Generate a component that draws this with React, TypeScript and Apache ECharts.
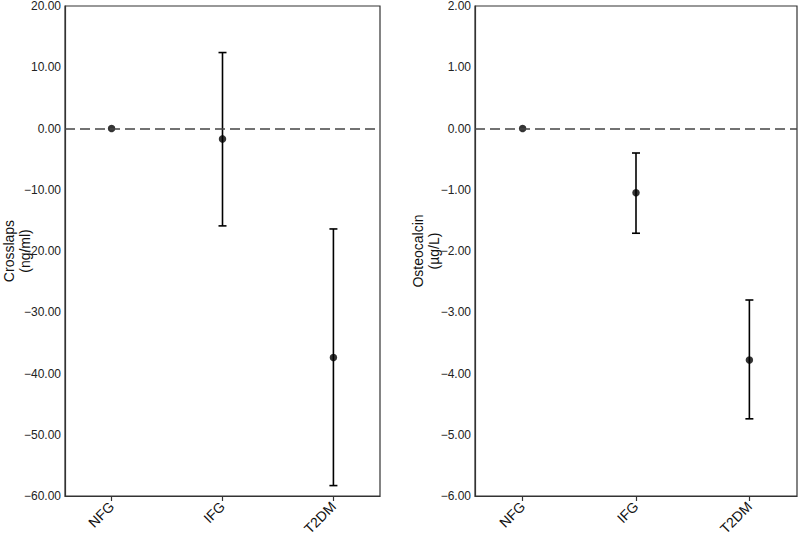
import React, { useEffect, useRef } from "react";
import * as echarts from "echarts";

const categories = ["NFG", "IFG", "T2DM"];
const crossMean = [0, -1.7, -37.4];
const crossLow = [0, -15.9, -58.3];
const crossHigh = [0, 12.4, -16.4];
const oscMean = [0, -1.05, -3.78];
const oscLow = [0, -1.71, -4.74];
const oscHigh = [0, -0.4, -2.8];
const crossTicks = [-60, 20, 10];
const oscTicks = [-6, 2, 1];

const FONT = "'Liberation Sans', Arial, Helvetica, sans-serif";

export default function App() {
  const ref = useRef<HTMLDivElement>(null);
  useEffect(() => {
    if (!ref.current) return;
    const chart = echarts.init(ref.current, null, { renderer: "svg" });

    const xAxisFor = (gridIndex: number) => ({
      type: "value",
      gridIndex,
      min: -0.42,
      max: 2.42,
      splitLine: { show: false },
      axisLine: { show: true, onZero: false, lineStyle: { color: "#333", width: 1.2 } },
      axisTick: { show: true, customValues: [0, 1, 2], length: 5, lineStyle: { color: "#333", width: 1.2 } },
      axisLabel: {
        customValues: [0, 1, 2],
        formatter: (v: number) => categories[Math.round(v)] ?? "",
        rotate: 45,
        margin: 8,
        fontSize: 14,
        color: "#111",
        fontFamily: FONT,
      },
    });

    const yAxisFor = (gridIndex: number, ticks: number[], name: string, gap: number) => ({
      type: "value",
      gridIndex,
      min: ticks[0],
      max: ticks[1],
      interval: ticks[2],
      name,
      nameLocation: "middle",
      nameGap: gap,
      nameMoveOverlap: false,
      nameTextStyle: { fontSize: 14, color: "#111", fontFamily: FONT, lineHeight: 16 },
      splitLine: { show: false },
      axisLine: { show: true, onZero: false, lineStyle: { color: "#333", width: 1.2 } },
      axisTick: { show: false },
      axisLabel: {
        formatter: (v: number) => v.toFixed(2).replace("-", "\u2212"),
        margin: 4,
        fontSize: 12,
        color: "#222",
        fontFamily: FONT,
      },
    });

    const errSeries = (idx: number, low: number[], high: number[]) => ({
      type: "custom",
      xAxisIndex: idx,
      yAxisIndex: idx,
      data: categories.map((_, i) => [i, low[i], high[i]]),
      renderItem: (params: any, api: any) => {
        const x = api.value(0);
        const lo = api.coord([x, api.value(1)]);
        const hi = api.coord([x, api.value(2)]);
        if (Math.abs(lo[1] - hi[1]) < 0.5) return { type: "group", children: [] };
        const hw = 4;
        const style = { stroke: "#000", lineWidth: 1.6 };
        return {
          type: "group",
          children: [
            { type: "line", shape: { x1: lo[0], y1: lo[1], x2: hi[0], y2: hi[1] }, style },
            { type: "line", shape: { x1: hi[0] - hw, y1: hi[1], x2: hi[0] + hw, y2: hi[1] }, style },
            { type: "line", shape: { x1: lo[0] - hw, y1: lo[1], x2: lo[0] + hw, y2: lo[1] }, style },
          ],
        };
      },
      z: 3,
    });

    const pointSeries = (idx: number, mean: number[]) => ({
      type: "scatter",
      xAxisIndex: idx,
      yAxisIndex: idx,
      data: categories.map((_, i) => [i, mean[i]]),
      symbol: "circle",
      symbolSize: 7.5,
      itemStyle: { color: "#000" },
      z: 4,
      markLine: {
        silent: true,
        symbol: "none",
        label: { show: false },
        lineStyle: { color: "#444", type: [10, 5], width: 1.5 },
        data: [{ yAxis: 0 }],
      },
    });

    chart.setOption({
      animation: false,
      backgroundColor: "#fff",
      textStyle: { fontFamily: FONT },
      grid: [
        { left: 65, top: 6, width: 315, height: 490, outerBoundsMode: "none", containLabel: false, show: true, borderColor: "#333", borderWidth: 1.2, backgroundColor: "transparent" },
        { left: 475, top: 6, width: 322, height: 490, outerBoundsMode: "none", containLabel: false, show: true, borderColor: "#333", borderWidth: 1.2, backgroundColor: "transparent" },
      ],
      xAxis: [xAxisFor(0), xAxisFor(1)],
      yAxis: [
        yAxisFor(0, crossTicks, "Crosslaps\n(ng/ml)", 32),
        yAxisFor(1, oscTicks, "Osteocalcin\n(\u00b5g/L)", 33),
      ],
      series: [
        errSeries(0, crossLow, crossHigh),
        pointSeries(0, crossMean),
        errSeries(1, oscLow, oscHigh),
        pointSeries(1, oscMean),
      ],
    });
    return () => chart.dispose();
  }, []);
  return (
    <div
      ref={ref}
      style={{ position: "fixed", left: 0, top: 0, width: 798, height: 536, background: "#fff" }}
    />
  );
}
